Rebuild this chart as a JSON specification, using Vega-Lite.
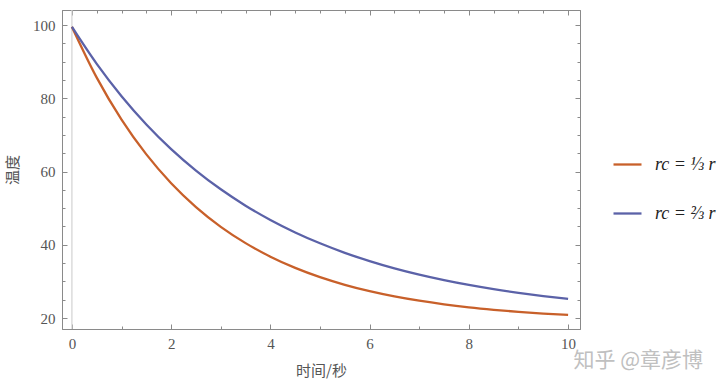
{
  "$schema": "https://vega.github.io/schema/vega-lite/v6.json",
  "width": 518,
  "height": 319,
  "autosize": "none",
  "padding": {"left": 62, "top": 10, "right": 140, "bottom": 57},
  "background": "white",
  "config": {
    "view": {"stroke": "#8a8a8a", "strokeWidth": 1},
    "axis": {
      "grid": false,
      "domainColor": "#8a8a8a",
      "tickColor": "#8a8a8a",
      "labelColor": "#555555",
      "labelFont": "Liberation Serif",
      "labelFontSize": 15,
      "titleFont": "Noto Sans CJK SC",
      "titleFontWeight": "normal",
      "titleFontSize": 15,
      "titleColor": "#555555"
    }
  },
  "title": {
    "text": "知乎  @章彦博",
    "orient": "bottom",
    "anchor": "end",
    "frame": "group",
    "baseline": "top",
    "offset": 0,
    "dy": -28,
    "dx": 123,
    "font": "Noto Sans CJK SC",
    "fontWeight": "normal",
    "fontSize": 21,
    "color": "#c0c0c0"
  },
  "data": {
    "values": [
      {"t": 0, "T": 99.5, "s": "a"}, {"t": 0.5, "T": 85.64, "s": "a"}, {"t": 1, "T": 74.17, "s": "a"}, {"t": 1.5, "T": 64.67, "s": "a"}, {"t": 2, "T": 56.8, "s": "a"}, {"t": 2.5, "T": 50.29, "s": "a"}, {"t": 3, "T": 44.9, "s": "a"}, {"t": 3.5, "T": 40.45, "s": "a"}, {"t": 4, "T": 36.75, "s": "a"}, {"t": 4.5, "T": 33.69, "s": "a"}, {"t": 5, "T": 31.16, "s": "a"}, {"t": 5.5, "T": 29.07, "s": "a"}, {"t": 6, "T": 27.33, "s": "a"}, {"t": 6.5, "T": 25.9, "s": "a"}, {"t": 7, "T": 24.72, "s": "a"}, {"t": 7.5, "T": 23.73, "s": "a"}, {"t": 8, "T": 22.91, "s": "a"}, {"t": 8.5, "T": 22.24, "s": "a"}, {"t": 9, "T": 21.68, "s": "a"}, {"t": 9.5, "T": 21.22, "s": "a"}, {"t": 10, "T": 20.84, "s": "a"},
      {"t": 0, "T": 99.5, "s": "b"}, {"t": 0.5, "T": 89.39, "s": "b"}, {"t": 1, "T": 80.56, "s": "b"}, {"t": 1.5, "T": 72.86, "s": "b"}, {"t": 2, "T": 66.13, "s": "b"}, {"t": 2.5, "T": 60.27, "s": "b"}, {"t": 3, "T": 55.15, "s": "b"}, {"t": 3.5, "T": 50.68, "s": "b"}, {"t": 4, "T": 46.78, "s": "b"}, {"t": 4.5, "T": 43.37, "s": "b"}, {"t": 5, "T": 40.4, "s": "b"}, {"t": 5.5, "T": 37.8, "s": "b"}, {"t": 6, "T": 35.55, "s": "b"}, {"t": 6.5, "T": 33.56, "s": "b"}, {"t": 7, "T": 31.84, "s": "b"}, {"t": 7.5, "T": 30.34, "s": "b"}, {"t": 8, "T": 29.02, "s": "b"}, {"t": 8.5, "T": 27.87, "s": "b"}, {"t": 9, "T": 26.87, "s": "b"}, {"t": 9.5, "T": 25.99, "s": "b"}, {"t": 10, "T": 25.23, "s": "b"}
    ]
  },
  "layer": [
    {
      "data": {"values": [{"t": 0}]},
      "mark": {"type": "rule", "color": "#d2d2d2", "strokeWidth": 1.2},
      "encoding": {
        "x": {"field": "t", "type": "quantitative", "axis": null}
      }
    },
    {
      "mark": {"type": "line", "interpolate": "monotone", "strokeWidth": 2.3},
      "encoding": {
        "x": {
          "field": "t", "type": "quantitative",
          "scale": {"domain": [-0.2, 10.24], "nice": false, "zero": false},
          "axis": {
            "orient": "bottom",
            "title": "时间/秒",
            "titlePadding": 12,
            "format": "d",
            "values": [0, 0.5, 1, 1.5, 2, 2.5, 3, 3.5, 4, 4.5, 5, 5.5, 6, 6.5, 7, 7.5, 8, 8.5, 9, 9.5, 10],
            "labelExpr": "datum.value % 2 === 0 ? datum.label : ''",
            "tickSize": {"condition": {"test": "datum.value % 2 === 0", "value": -5}, "value": -3},
            "labelPadding": 12
          }
        },
        "y": {
          "field": "T", "type": "quantitative",
          "scale": {"domain": [17, 104.1], "nice": false, "zero": false},
          "axis": {
            "orient": "left",
            "title": "温度",
            "titlePadding": 12,
            "format": "d",
            "values": [20, 25, 30, 35, 40, 45, 50, 55, 60, 65, 70, 75, 80, 85, 90, 95, 100],
            "labelExpr": "datum.value % 20 === 0 ? datum.label : ''",
            "tickSize": {"condition": {"test": "datum.value % 20 === 0", "value": -5}, "value": -3},
            "labelPadding": 12
          }
        },
        "color": {
          "field": "s", "type": "nominal",
          "scale": {"domain": ["a", "b"], "range": ["#C8602A", "#5B62A8"]},
          "legend": {
            "title": null,
            "orient": "none",
            "legendX": 550,
            "legendY": 139,
            "symbolType": "stroke",
            "symbolSize": 784,
            "symbolStrokeWidth": 2.3,
            "rowPadding": 24,
            "labelOffset": 12,
            "labelFont": "Liberation Serif",
            "labelFontSize": 18,
            "labelFontStyle": "italic",
            "labelColor": "#222222",
            "labelExpr": "datum.value === 'a' ? 'rc = ⅓ r' : 'rc = ⅔ r'"
          }
        }
      }
    },
    {
      "mark": {"type": "line", "opacity": 0},
      "encoding": {
        "x": {
          "field": "t", "type": "quantitative",
          "axis": {
            "orient": "top",
            "title": null,
            "labels": false,
            "values": [0, 0.5, 1, 1.5, 2, 2.5, 3, 3.5, 4, 4.5, 5, 5.5, 6, 6.5, 7, 7.5, 8, 8.5, 9, 9.5, 10],
            "tickSize": {"condition": {"test": "datum.value % 2 === 0", "value": -5}, "value": -3}
          }
        },
        "y": {
          "field": "T", "type": "quantitative",
          "axis": {
            "orient": "right",
            "title": null,
            "labels": false,
            "values": [20, 25, 30, 35, 40, 45, 50, 55, 60, 65, 70, 75, 80, 85, 90, 95, 100],
            "tickSize": {"condition": {"test": "datum.value % 20 === 0", "value": -5}, "value": -3}
          }
        },
        "detail": {"field": "s", "type": "nominal"}
      }
    }
  ],
  "resolve": {"axis": {"x": "independent", "y": "independent"}}
}
